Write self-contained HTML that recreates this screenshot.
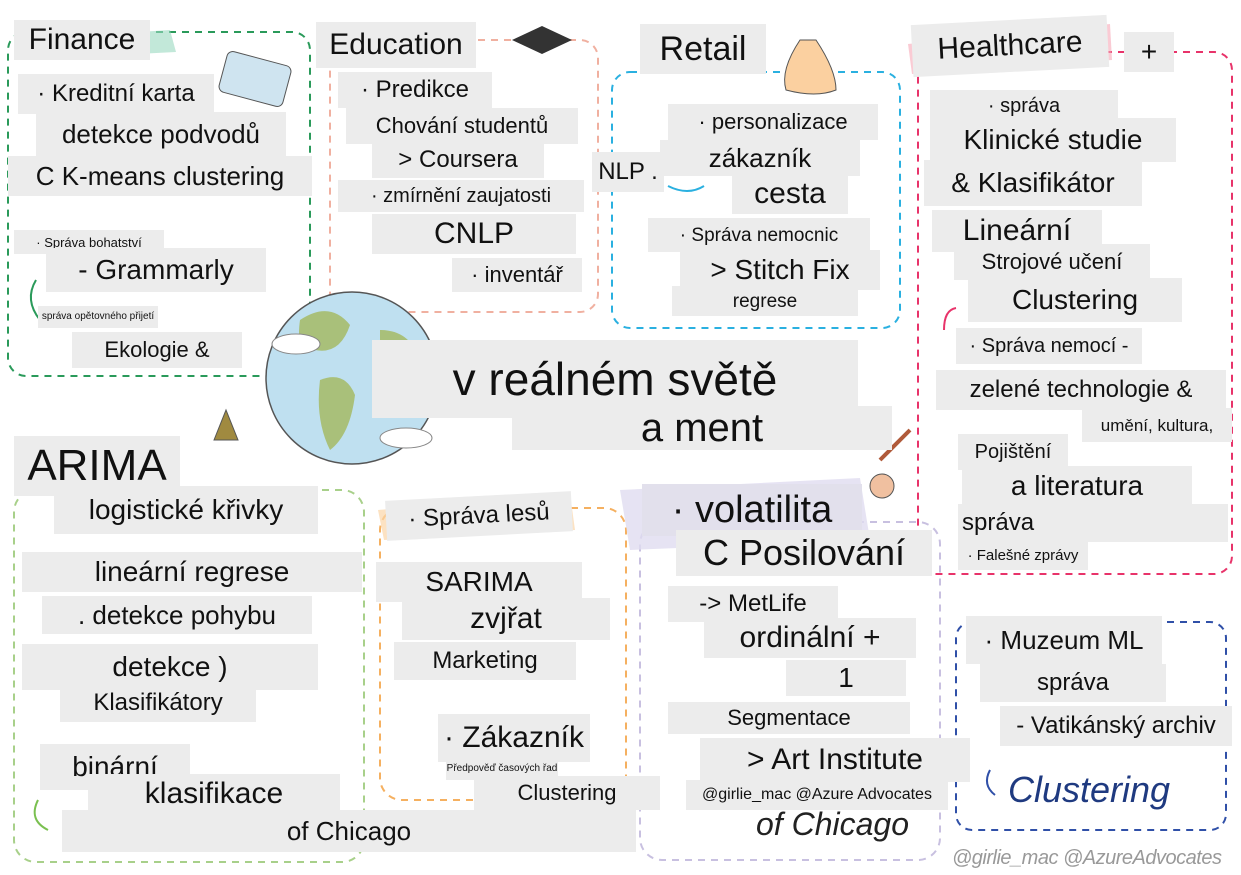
<!DOCTYPE html>
<html><head><meta charset="utf-8">
<style>
html,body{margin:0;padding:0;background:#fff;}
#root{position:relative;width:1241px;height:875px;overflow:hidden;background:#fff;font-family:"Liberation Sans","DejaVu Sans",sans-serif;}
.b{position:absolute;background:#ececec;color:#111;white-space:nowrap;display:flex;align-items:center;justify-content:center;box-sizing:border-box;line-height:1;}
.h{position:absolute;white-space:nowrap;line-height:1;}
svg{position:absolute;left:0;top:0;}
</style></head><body>
<div id="root">
<svg width="1241" height="875">
 <g fill="none" stroke-width="2" stroke-dasharray="7 6">
  <rect x="8" y="32" width="302" height="344" rx="18" stroke="#2a9a5a"/>
  <rect x="330" y="40" width="268" height="272" rx="18" stroke="#f0b0a0"/>
  <rect x="612" y="72" width="288" height="256" rx="18" stroke="#2ab0e0"/>
  <rect x="918" y="52" width="314" height="522" rx="18" stroke="#e8336a"/>
  <rect x="14" y="490" width="350" height="372" rx="22" stroke="#a8d08a"/>
  <rect x="380" y="508" width="246" height="292" rx="22" stroke="#f5b060"/>
  <rect x="640" y="522" width="300" height="338" rx="22" stroke="#c8c0e0"/>
  <rect x="956" y="622" width="270" height="208" rx="16" stroke="#3050a8"/>
 </g>
 <path d="M14 40 L170 30 L176 52 L18 60Z" fill="#9ad8c0" opacity=".6"/>
 <path d="M908 44 L1110 24 L1112 60 L912 74Z" fill="#f6a8b8" opacity=".6"/>
 <path d="M620 490 L860 478 L870 540 L630 550Z" fill="#e0dcf0" opacity=".8"/>
 <path d="M378 510 L570 494 L575 530 L384 540Z" fill="#fbd5a8" opacity=".7"/>
 <g>
  <circle cx="352" cy="378" r="86" fill="#bfe0f0" stroke="#555" stroke-width="1.5"/>
  <path d="M300 320 q30 -20 50 5 q-10 30 -35 25 q-20 5 -15 -30Z" fill="#a9c07a"/>
  <path d="M320 380 q25 -10 35 15 q-5 40 -25 55 q-15 -30 -10 -70Z" fill="#a9c07a"/>
  <path d="M380 330 q30 0 40 30 q-20 10 -40 -5Z" fill="#a9c07a"/>
  <ellipse cx="296" cy="344" rx="24" ry="10" fill="#fff" stroke="#888"/>
  <ellipse cx="406" cy="438" rx="26" ry="10" fill="#fff" stroke="#888"/>
 </g>
 <path d="M38 800 q-10 20 10 30" stroke="#7ac050" stroke-width="2" fill="none"/>
 <path d="M990 770 q-8 15 5 25" stroke="#3050a8" stroke-width="2" fill="none"/>
 <path d="M668 186 q20 10 36 0" stroke="#2ab0e0" stroke-width="2" fill="none"/>
 <path d="M944 330 q0 -20 12 -22" stroke="#e8336a" stroke-width="2" fill="none"/>
 <path d="M36 280 q-12 20 4 40" stroke="#2a9a5a" stroke-width="2" fill="none"/>
 <rect x="222" y="58" width="66" height="42" rx="6" transform="rotate(15 255 79)" fill="#cfe4f0" stroke="#555"/>
 <path d="M512 40 l30 -14 l30 14 l-30 14Z" fill="#333"/>
 <path d="M800 40 q-20 30 -14 50 q30 8 50 0 q0 -20 -20 -50Z" fill="#fbd0a0" stroke="#555"/>
 <path d="M214 440 l12 -30 l12 30Z" fill="#a08a40" stroke="#555"/>
 <path d="M880 460 l30 -30" stroke="#b05a3a" stroke-width="4"/>
 <circle cx="882" cy="486" r="12" fill="#f0c0a0" stroke="#555"/>
</svg>

<div class="b" style="left:14px;top:20px;width:136px;height:40px;font-size:30px">Finance</div>
<div class="b" style="left:18px;top:74px;width:196px;height:40px;font-size:24px">· Kreditní karta</div>
<div class="b" style="left:36px;top:112px;width:250px;height:44px;font-size:26px">detekce podvodů</div>
<div class="b" style="left:8px;top:156px;width:304px;height:40px;font-size:26px">C K-means clustering</div>
<div class="b" style="left:14px;top:230px;width:150px;height:24px;font-size:13px">· Správa bohatství</div>
<div class="b" style="left:46px;top:248px;width:220px;height:44px;font-size:28px">- Grammarly</div>
<div class="b" style="left:38px;top:306px;width:120px;height:22px;font-size:10px">správa opětovného přijetí</div>
<div class="b" style="left:72px;top:332px;width:170px;height:36px;font-size:22px">Ekologie &amp;</div>

<div class="b" style="left:316px;top:22px;width:160px;height:46px;font-size:30px">Education</div>
<div class="b" style="left:338px;top:72px;width:154px;height:36px;font-size:24px">· Predikce</div>
<div class="b" style="left:346px;top:108px;width:232px;height:36px;font-size:22px">Chování studentů</div>
<div class="b" style="left:372px;top:142px;width:172px;height:36px;font-size:24px">&gt; Coursera</div>
<div class="b" style="left:338px;top:180px;width:246px;height:32px;font-size:20px">· zmírnění zaujatosti</div>
<div class="b" style="left:372px;top:214px;width:204px;height:40px;font-size:30px">CNLP</div>
<div class="b" style="left:452px;top:258px;width:130px;height:34px;font-size:22px">· inventář</div>

<div class="b" style="left:640px;top:24px;width:126px;height:50px;font-size:34px">Retail</div>
<div class="b" style="left:668px;top:104px;width:210px;height:36px;font-size:22px">· personalizace</div>
<div class="b" style="left:660px;top:140px;width:200px;height:36px;font-size:26px">zákazník</div>
<div class="b" style="left:592px;top:152px;width:72px;height:40px;font-size:24px">NLP .</div>
<div class="b" style="left:732px;top:174px;width:116px;height:40px;font-size:30px">cesta</div>
<div class="b" style="left:648px;top:218px;width:222px;height:34px;font-size:19px">· Správa nemocnic</div>
<div class="b" style="left:680px;top:250px;width:200px;height:40px;font-size:28px">&gt; Stitch Fix</div>
<div class="b" style="left:672px;top:286px;width:186px;height:30px;font-size:19px">regrese</div>

<div class="b" style="left:912px;top:20px;width:196px;height:52px;font-size:30px;transform:rotate(-3deg)">Healthcare</div>
<div class="b" style="left:1124px;top:32px;width:50px;height:40px;font-size:28px">+</div>
<div class="b" style="left:930px;top:90px;width:188px;height:32px;font-size:20px">· správa</div>
<div class="b" style="left:930px;top:118px;width:246px;height:44px;font-size:28px">Klinické studie</div>
<div class="b" style="left:924px;top:160px;width:218px;height:46px;font-size:28px">&amp; Klasifikátor</div>
<div class="b" style="left:932px;top:210px;width:170px;height:42px;font-size:30px">Lineární</div>
<div class="b" style="left:954px;top:244px;width:196px;height:36px;font-size:22px">Strojové učení</div>
<div class="b" style="left:968px;top:278px;width:214px;height:44px;font-size:28px">Clustering</div>
<div class="b" style="left:956px;top:328px;width:186px;height:36px;font-size:20px">· Správa nemocí -</div>
<div class="b" style="left:936px;top:370px;width:290px;height:40px;font-size:24px">zelené technologie &amp;</div>
<div class="b" style="left:1082px;top:408px;width:150px;height:34px;font-size:17px">umění, kultura,</div>
<div class="b" style="left:958px;top:434px;width:110px;height:36px;font-size:20px">Pojištění</div>
<div class="b" style="left:962px;top:466px;width:230px;height:40px;font-size:28px">a literatura</div>
<div class="b" style="left:958px;top:504px;width:270px;height:38px;font-size:24px;justify-content:flex-start;padding-left:4px">správa</div>
<div class="b" style="left:958px;top:540px;width:130px;height:30px;font-size:15px">· Falešné zprávy</div>

<div class="b" style="left:372px;top:340px;width:486px;height:78px;font-size:46px">v reálném světě</div>
<div class="b" style="left:512px;top:406px;width:380px;height:44px;font-size:40px">a ment</div>

<div class="b" style="left:14px;top:436px;width:166px;height:60px;font-size:44px">ARIMA</div>
<div class="b" style="left:54px;top:486px;width:264px;height:48px;font-size:28px">logistické křivky</div>
<div class="b" style="left:22px;top:552px;width:340px;height:40px;font-size:28px">lineární regrese</div>
<div class="b" style="left:42px;top:596px;width:270px;height:38px;font-size:26px">. detekce pohybu</div>
<div class="b" style="left:22px;top:644px;width:296px;height:46px;font-size:28px">detekce )</div>
<div class="b" style="left:60px;top:684px;width:196px;height:38px;font-size:24px">Klasifikátory</div>
<div class="b" style="left:40px;top:744px;width:150px;height:46px;font-size:28px">binární</div>
<div class="b" style="left:88px;top:774px;width:252px;height:40px;font-size:30px">klasifikace</div>
<div class="b" style="left:62px;top:810px;width:574px;height:42px;font-size:26px">of Chicago</div>

<div class="b" style="left:386px;top:496px;width:186px;height:40px;font-size:24px;transform:rotate(-3deg)">· Správa lesů</div>
<div class="b" style="left:376px;top:562px;width:206px;height:40px;font-size:28px">SARIMA</div>
<div class="b" style="left:402px;top:598px;width:208px;height:42px;font-size:30px">zvjřat</div>
<div class="b" style="left:394px;top:642px;width:182px;height:38px;font-size:24px">Marketing</div>
<div class="b" style="left:438px;top:714px;width:152px;height:48px;font-size:30px">· Zákazník</div>
<div class="b" style="left:446px;top:758px;width:112px;height:22px;font-size:10px">Předpověď časových řad</div>
<div class="b" style="left:474px;top:776px;width:186px;height:34px;font-size:22px">Clustering</div>

<div class="b" style="left:642px;top:484px;width:220px;height:52px;font-size:38px;background:#e2e0ec">· volatilita</div>
<div class="b" style="left:676px;top:530px;width:256px;height:46px;font-size:36px">C Posilování</div>
<div class="b" style="left:668px;top:586px;width:170px;height:36px;font-size:24px">-&gt; MetLife</div>
<div class="b" style="left:704px;top:618px;width:212px;height:40px;font-size:30px">ordinální +</div>
<div class="b" style="left:786px;top:660px;width:120px;height:36px;font-size:28px">1</div>
<div class="b" style="left:668px;top:702px;width:242px;height:32px;font-size:22px">Segmentace</div>
<div class="b" style="left:700px;top:738px;width:270px;height:44px;font-size:30px">&gt; Art Institute</div>
<div class="b" style="left:686px;top:780px;width:262px;height:30px;font-size:16px">@girlie_mac @Azure Advocates</div>
<div class="h" style="left:756px;top:808px;font-size:32px;color:#222;font-style:italic">of Chicago</div>

<div class="b" style="left:966px;top:616px;width:196px;height:48px;font-size:26px">· Muzeum ML</div>
<div class="b" style="left:980px;top:664px;width:186px;height:38px;font-size:24px">správa</div>
<div class="b" style="left:1000px;top:706px;width:232px;height:40px;font-size:24px">- Vatikánský archiv</div>
<div class="h" style="left:1008px;top:772px;font-size:36px;color:#1f3a80;font-style:italic">Clustering</div>
<div class="h" style="left:952px;top:848px;font-size:20px;color:#999;font-style:italic;letter-spacing:-0.5px">@girlie_mac @AzureAdvocates</div>
</div>
</body></html>
